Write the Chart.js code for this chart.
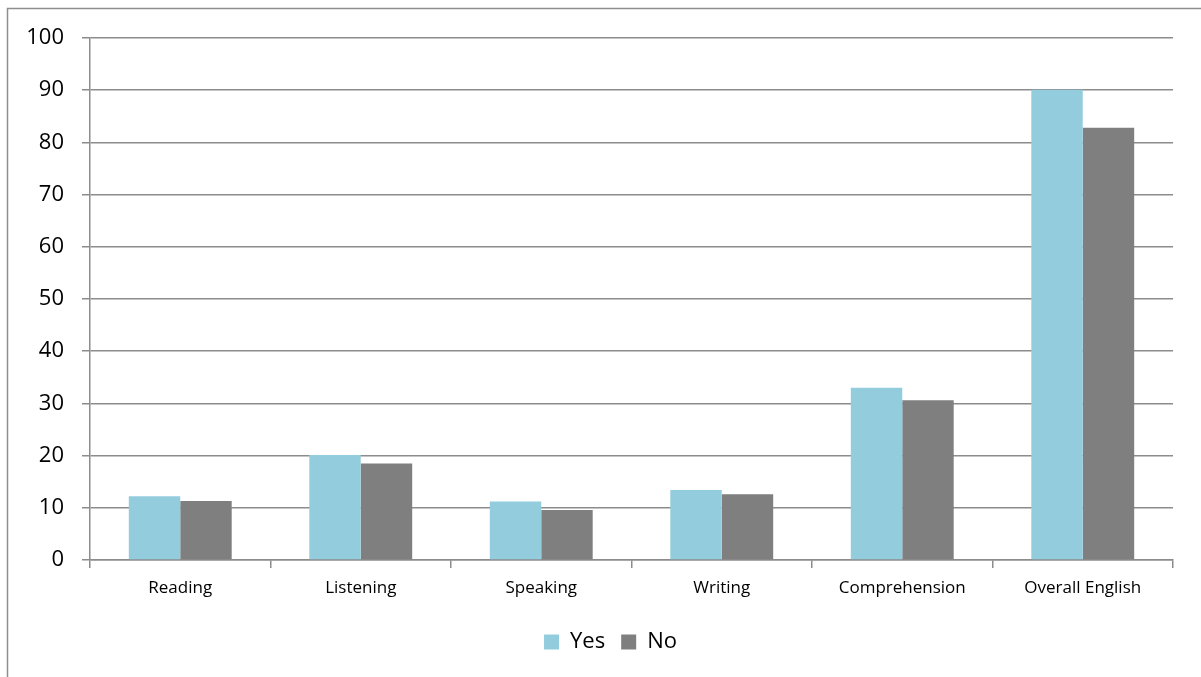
<!DOCTYPE html>
<html>
<head>
<meta charset="utf-8">
<script src="https://cdn.jsdelivr.net/npm/chart.js@4/dist/chart.umd.min.js"></script>
<style>
  html, body { margin: 0; padding: 0; background: #fff; }
  #wrap { width: 1201px; height: 677px; position: relative; }
</style>
</head>
<body>
<div id="wrap"><canvas id="chart" width="1201" height="677"></canvas></div>
<script>
var categories = ["Reading", "Listening", "Speaking", "Writing", "Comprehension", "Overall English"];
var yesValues = [12.2, 20.1, 11.2, 13.4, 33.0, 90.1];
var noValues = [11.3, 18.5, 9.6, 12.6, 30.6, 82.8];
var yTicks = [0, 10, 20, 30, 40, 50, 60, 70, 80, 90, 100];

var axisGray = '#8c8c8c';

// outer frame like the office chart border
var framePlugin = {
    id: 'frame',
    beforeDraw: function (chart) {
        var ctx = chart.ctx;
        ctx.save();
        ctx.strokeStyle = '#8e8e8e';
        ctx.lineWidth = 1.5;
        ctx.beginPath();
        ctx.moveTo(7.5, chart.height);
        ctx.lineTo(7.5, 8.5);
        ctx.lineTo(chart.width, 8.5);
        ctx.stroke();
        ctx.restore();
    },
    // legend sits centred on the frame, a bit right of the canvas centre
    afterLayout: function (chart) {
        if (chart.legend) {
            chart.legend.left += 24;
            chart.legend.right += 24;
        }
    }
};

var ctx = document.getElementById('chart').getContext('2d');
var myChart = new Chart(ctx, {
    type: 'bar',
    data: {
        labels: categories,
        datasets: [{
                label: 'Yes',
                data: yesValues,
                backgroundColor: '#93cddd',
                borderWidth: 0
            }, {
                label: 'No',
                data: noValues,
                backgroundColor: '#7f7f7f',
                borderWidth: 0
            }]
    },
    options: {
        responsive: false,
        animation: false,
        layout: { padding: { left: 0, right: 28, top: 38, bottom: 14 } },
        datasets: {
            bar: { barPercentage: 1.0, categoryPercentage: 0.57 }
        },
        plugins: {
            tooltip: { enabled: false },
            legend: {
                position: 'bottom',
                labels: {
                    boxWidth: 15,
                    boxHeight: 15,
                    padding: 16,
                    color: '#000',
                    font: { family: 'Open Sans', size: 22 }
                }
            }
        },
        scales: {
            x: {
                grid: {
                    display: true,
                    drawOnChartArea: false,
                    drawTicks: true,
                    tickLength: 8,
                    color: axisGray,
                    lineWidth: 1.5
                },
                border: { color: axisGray, width: 1.5 },
                ticks: {
                    color: '#000',
                    padding: 10,
                    maxRotation: 0,
                    font: { family: 'Open Sans', size: 17 }
                },
                afterFit: function (scale) { scale.height = 55; }
            },
            y: {
                min: 0,
                max: 100,
                afterBuildTicks: function (scale) {
                    scale.ticks = yTicks.map(function (v) { return { value: v }; });
                },
                grid: {
                    color: axisGray,
                    lineWidth: 1.5,
                    tickLength: 8
                },
                border: { color: axisGray, width: 1.5 },
                ticks: {
                    color: '#000',
                    padding: 18,
                    font: { family: 'Open Sans', size: 22 }
                },
                afterFit: function (scale) { scale.width = 90; }
            }
        }
    },
    plugins: [framePlugin]
});
</script>
</body>
</html>
